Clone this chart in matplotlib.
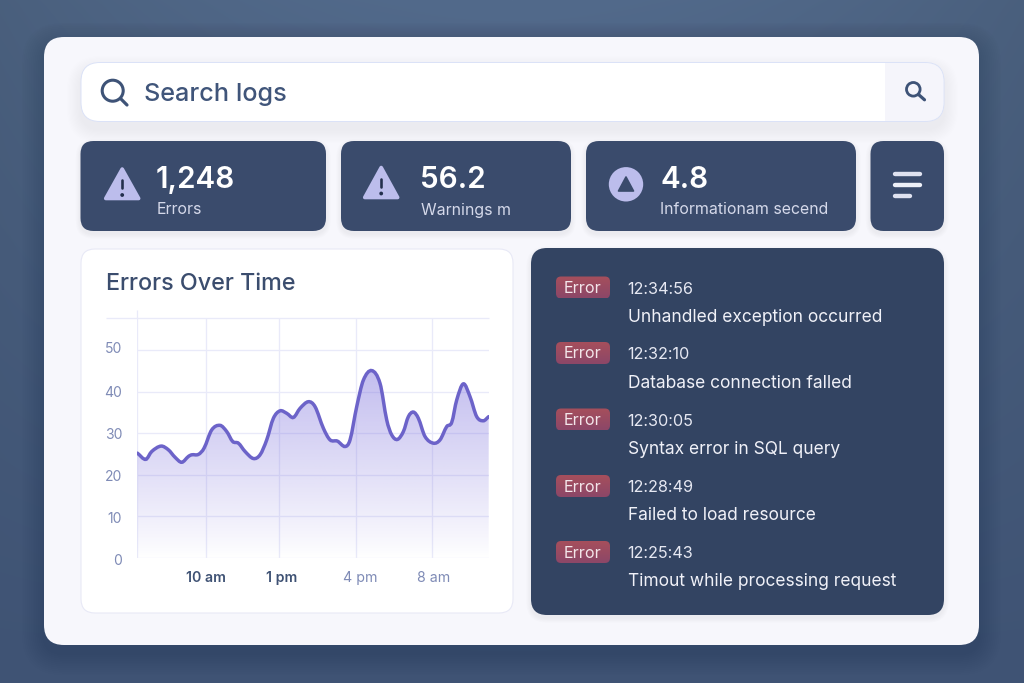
import numpy as np
import matplotlib
matplotlib.use("Agg")
import matplotlib.pyplot as plt
from matplotlib.patches import FancyBboxPatch, Circle, Polygon, PathPatch
from matplotlib.path import Path
from matplotlib.transforms import ScaledTranslation
from matplotlib.colors import to_rgb

plt.rcParams['font.family'] = ['Inter', 'DejaVu Sans']

# ---- data ----
time_pos = [0, 25, 43, 71, 93, 113, 133, 153, 163, 183, 200, 223, 248, 268, 286, 303, 323, 348, 368,
            388, 408, 428, 448, 468, 488, 513, 533, 558, 578, 600, 623, 638, 658, 678, 703, 728, 748,
            763, 780, 798, 813, 828, 843, 863, 888, 908, 928, 943, 958, 978, 998, 1018, 1038, 1054]
errors = [25.2, 23.7, 25.6, 26.9, 26.0, 24.2, 23.0, 24.4, 24.8, 24.9, 26.4, 30.8, 31.9, 30.4, 28.0, 27.6,
          25.6, 23.9, 24.8, 28.4, 33.6, 35.4, 34.8, 33.8, 36.0, 37.6, 36.4, 31.2, 28.4, 28.1, 26.8, 28.4,
          36.4, 42.8, 45.1, 42.0, 33.2, 29.6, 28.5, 30.4, 34.0, 35.1, 33.6, 29.2, 27.6, 28.4, 31.6, 32.6,
          38.0, 41.9, 38.8, 34.0, 33.0, 34.0]
y_ticks = [0, 10, 20, 30, 40, 50]
x_ticks = [206, 424, 656, 884]
x_labels = ['10 am', '1 pm', '4 pm', '8 am']
stat_values = ['1,248', '56.2', '4.8']
stat_names = ['Errors', 'Warnings m', 'Informationam secend']
log_times = ['12:34:56', '12:32:10', '12:30:05', '12:28:49', '12:25:43']
log_messages = ['Unhandled exception occurred', 'Database connection falled', 'Syntax error in SQL query',
                'Failed to load resource', 'Timout while processing request']
badge_label = 'Error'
chart_title = 'Errors Over Time'
search_text = 'Search logs'

NAVY = '#3a4b6c'
W, H = 1024, 683
fig = plt.figure(figsize=(W / 100, H / 100), dpi=100)
ui = fig.add_axes([0, 0, 1, 1])
ui.set_xlim(0, W)
ui.set_ylim(H, 0)
ui.axis('off')

# background
yy, xx = np.mgrid[0:H, 0:W]
u, v = xx / W, yy / H
top = np.array(to_rgb('#526a8b'))
bot = np.array(to_rgb('#3f5374'))
t = (v ** 0.9)[..., None]
bg = top * (1 - t) + bot * t
edge = (np.abs(u - .5) * 2) ** 2
bg = bg * (1 - 0.10 * edge[..., None] * (1 - v[..., None]))
ui.imshow(bg, extent=[0, W, H, 0], aspect='auto', zorder=0)
ui.set_xlim(0, W)
ui.set_ylim(H, 0)


def rrect(x0, y0, x1, y1, r, fc, ec='none', lw=0, z=2, alpha=None):
    p = FancyBboxPatch((x0 + r, y0 + r), x1 - x0 - 2 * r, y1 - y0 - 2 * r,
                       boxstyle=f'round,pad={r},rounding_size={r}', fc=fc, ec=ec, lw=lw, zorder=z, alpha=alpha)
    ui.add_patch(p)
    return p


def shadow(x0, y0, x1, y1, r, dy, spread, alpha, color='#1f2c48', z=1.5, n=12):
    for i in range(n):
        s = spread * (1 - i / n)
        rrect(x0 - s, y0 - s + dy, x1 + s, y1 + s + dy, r + s, color, z=z, alpha=alpha / n)


def gradient_rect(x0, y0, x1, y1, r, c0, c1, z):
    clip = rrect(x0, y0, x1, y1, r, 'none', z=z)
    g = np.linspace(0, 1, 40)[..., None, None]
    img = np.array(to_rgb(c0))[None, None, :] * (1 - g) + np.array(to_rgb(c1))[None, None, :] * g
    im = ui.imshow(img, extent=[x0, x1, y1, y0], aspect='auto', zorder=z)
    im.set_clip_path(clip)
    ui.set_xlim(0, W)
    ui.set_ylim(H, 0)


def seg(x0, y0, x1, y1, c, wpx, z=5):
    ui.plot([x0, x1], [y0, y1], color=c, lw=wpx * .72, solid_capstyle='round', zorder=z)


# main card
shadow(44, 37, 979, 645, 20, 8, 22, 0.22)
rrect(44, 37, 979, 645, 20, '#f7f7fc', z=2)

# search bar
shadow(81, 62, 944, 121, 19, 8, 14, 0.035, z=2.5)
rrect(81, 62.5, 944, 121.5, 19, '#ffffff', z=3)
clip_bar = rrect(81.5, 63, 943.5, 121, 18.5, 'none', z=3)
side = ui.fill_between([885, 944], 63, 121, color='#f5f5fb', lw=0, zorder=3.1)
side.set_clip_path(clip_bar)
rrect(81, 62.5, 944, 121.5, 19, 'none', '#dbe2f7', 0.7, z=3.2)
ui.add_patch(Circle((112.7, 90.7), 10.5, fc='none', ec='#3e5377', lw=2.2, zorder=5))
seg(120.5, 98.5, 127, 105, '#3e5377', 3.2)
ui.add_patch(Circle((913.3, 89.3), 6.8, fc='none', ec='#3e5377', lw=2.0, zorder=5))
seg(918.5, 94.5, 924.5, 99.8, '#3e5377', 3.2)
ui.text(144.5, 94.5, search_text, fontsize=18.2, fontweight='medium', color='#40557a', va='center', ha='left', zorder=5)

# stat cards
cards = [(80.5, 326), (341, 571), (586, 856), (870.5, 944)]
for x0, x1 in cards:
    shadow(x0, 141, x1, 231, 13, 3, 5, 0.025, z=2.5)
    rrect(x0, 141, x1, 231, 13, NAVY, z=3)

stat_x = [156, 420, 660]
name_x = [157, 421, 660]
for x, nx, val, name in zip(stat_x, name_x, stat_values, stat_names):
    ui.text(x, 180, val, fontsize=21.4, fontweight='semibold', color='white', va='center', ha='left', zorder=5)
    ui.text(nx, 210, name, fontsize=11.45, color='#d5d9ea', va='center', ha='left', zorder=5)

ICON = '#bcbdec'
for cx, y0, y1 in [(122.2, 169, 198.5), (381.2, 167.5, 197.5)]:
    ui.add_patch(Polygon([(cx, y0), (cx + 16.5, y1), (cx - 16.5, y1)], closed=True, fc=ICON, ec=ICON, lw=2.6,
                         joinstyle='round', zorder=5))
    seg(cx, y0 + 11, cx, y0 + 19, '#232f4d', 2.6, z=6)
    ui.add_patch(Circle((cx, y0 + 26), 1.9, fc='#232f4d', ec='none', zorder=6))
ui.add_patch(Circle((626, 184.3), 17.2, fc=ICON, ec='none', zorder=5))
ui.add_patch(Polygon([(626, 177), (633.5, 191), (618.5, 191)], closed=True, fc=NAVY, ec=NAVY, lw=1.2,
                     joinstyle='round', zorder=6))
seg(895, 173.7, 919.5, 173.7, '#dfe2f0', 4.4)
seg(895, 185, 919.5, 185, '#eef0f8', 4.4)
seg(895, 195.7, 909.5, 195.7, '#dfe2f0', 4.4)

# chart card
shadow(81, 249, 513, 613, 14, 3, 6, 0.012, z=2.5)
rrect(81, 249, 513, 613, 14, '#ffffff', '#e8e9f6', 0.8, z=3)
ui.text(106, 284.5, chart_title, fontsize=16.8, fontweight='medium', color='#3b4d6e', va='center', ha='left', zorder=5)
GRID = '#e9eaf9'
ui.plot([106, 488.7], [318.3, 318.3], color=GRID, lw=0.95, solid_capstyle='butt', zorder=4)
ui.plot([137.4, 137.4], [310, 318.3], color=GRID, lw=0.9, solid_capstyle='butt', zorder=4)

# log card
shadow(531, 248, 944, 615, 16, 3, 5, 0.025, z=2.5)
rrect(531, 248, 944, 615, 16, '#334462', z=3)
badge_y = [287.5, 353, 419.5, 486, 552]
time_y = [289, 354.5, 421, 487.5, 553]
msg_y = [317, 383, 449, 515, 581]
for by, ty, my, tm, msg in zip(badge_y, time_y, msg_y, log_times, log_messages):
    gradient_rect(556, by - 11, 610, by + 11, 5, '#a64f5c', '#8c4768', 4)
    ui.text(582.5, by + 1, badge_label, fontsize=11.6, color='#f3e6ea', va='center', ha='center', zorder=5)
    ui.text(627.5, ty, tm, fontsize=11.7, color='#e6e8f2', va='center', ha='left', zorder=5)
    ui.text(628, my, msg, fontsize=12.5, color='#f0f1f8', va='center', ha='left', zorder=5)

# chart axes
XMAX, YMAX = 1054, 57.7
L, R, T, B = 137.4, 488.7, 318.3, 557.7
ax = fig.add_axes([L / W, 1 - B / H, (R - L) / W, (B - T) / H], zorder=5)
ax.patch.set_alpha(0)
for s in ax.spines.values():
    s.set_visible(False)
ax.set_axisbelow(True)
ax.grid(True, color=GRID, lw=0.95)
ax.axvline(0, color=GRID, lw=0.95, zorder=0.5)
ax.set_yticks(y_ticks)
ax.set_yticklabels([str(v) for v in y_ticks], color='#7f8bb6', fontsize=10.0)
ax.set_xticks(x_ticks)
ax.set_xticklabels(x_labels, fontsize=10.2)
ax.tick_params(length=0)
ax.tick_params(axis='y', pad=11)
ax.tick_params(axis='x', pad=9.5)
offsets = [0, 3.2, 4, 2]
for i, (lab, dx) in enumerate(zip(ax.get_xticklabels(), offsets)):
    lab.set_transform(lab.get_transform() + ScaledTranslation(dx * .72 / 72, 0, fig.dpi_scale_trans))
    lab.set_color('#3f5274' if i < 2 else '#7f8bb6')
    lab.set_fontweight('semibold' if i < 2 else 'normal')
y_offsets = [-1.6, -1.0, -0.7, 0, 0.6, 3.0]
for lab, dy in zip(ax.get_yticklabels(), y_offsets):
    lab.set_transform(lab.get_transform() + ScaledTranslation(0, dy * .72 / 72, fig.dpi_scale_trans))


def smooth_path(xs, ys):
    """Catmull-Rom spline through the read values, as Bezier segments."""
    xs, ys = np.asarray(xs, float), np.asarray(ys, float)
    verts = [(xs[0], ys[0])]
    codes = [Path.MOVETO]
    n = len(xs)
    for i in range(n - 1):
        a, b = max(i - 1, 0), min(i + 2, n - 1)
        h = xs[i + 1] - xs[i]
        m0 = (ys[i + 1] - ys[a]) / (xs[i + 1] - xs[a])
        m1 = (ys[b] - ys[i]) / (xs[b] - xs[i])
        verts += [(xs[i] + h / 3, ys[i] + m0 * h / 3), (xs[i + 1] - h / 3, ys[i + 1] - m1 * h / 3), (xs[i + 1], ys[i + 1])]
        codes += [Path.CURVE4] * 3
    return verts, codes


verts, codes = smooth_path(time_pos, errors)
area = Path(verts + [(time_pos[-1], 0), (time_pos[0], 0), verts[0]],
            codes + [Path.LINETO, Path.LINETO, Path.CLOSEPOLY])
clip = PathPatch(area, fc='none', ec='none', transform=ax.transData)
ax.add_patch(clip)
gy = np.linspace(1, 0, 200)
img = np.zeros((200, 1, 4))
img[..., :3] = to_rgb('#7b6fdc')
img[:, 0, 3] = 0.46 * np.clip((gy * YMAX) / 46, 0, 1) ** 0.9
im = ax.imshow(img, extent=[0, XMAX, 0, YMAX], aspect='auto', zorder=2)
im.set_clip_path(clip)
ax.add_patch(PathPatch(Path(verts, codes), fc='none', ec='#6c63c9', lw=2.5, zorder=3, capstyle='round'))
ax.set_xlim(0, XMAX)
ax.set_ylim(0, YMAX)

fig.savefig('out.png', dpi=100)
